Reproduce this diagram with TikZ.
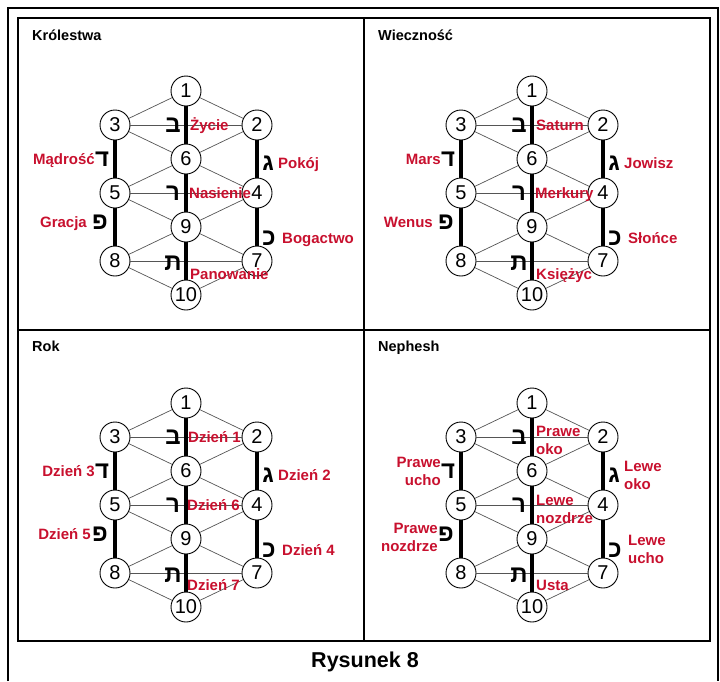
\documentclass[tikz,border=0pt]{standalone}
\usepackage{fontspec}
\setmainfont{Liberation Sans}
\newfontfamily\hebfont[Script=Hebrew]{Liberation Sans}
\usetikzlibrary{positioning,calc}
\definecolor{labelred}{RGB}{200,16,46}
\definecolor{edgegray}{RGB}{85,85,85}

\begin{document}
\begin{tikzpicture}[x=1pt,y=-1pt,
  sefira/.style={circle,draw=black,line width=0.9pt,fill=white,inner sep=0pt,minimum size=30pt,font=\fontsize{20}{20}\selectfont},
  thinpath/.style={draw=edgegray,line width=0.7pt},
  thickpath/.style={draw=black,line width=3.2pt},
  letter/.style={inner sep=0pt,font=\hebfont\bfseries\fontsize{24}{24}\selectfont},
  lbl/.style={inner sep=0pt,text=labelred,font=\bfseries\fontsize{15}{18}\selectfont,text height=10.8pt,text depth=0pt},
  lbltwo/.style={inner sep=0pt,text=labelred,font=\bfseries\fontsize{15}{18}\selectfont},
  paneltitle/.style={anchor=base west,inner sep=0pt,font=\bfseries\fontsize{14.5}{17}\selectfont},
  frame/.style={line width=1.3pt}]

\useasboundingbox (0,0) rectangle (720,681);

% frames
\draw[frame] (8,681) -- (8,8) -- (718,8) -- (718,681);
\draw[frame] (18,18) rectangle (710,641);
\draw[frame] (364,18) -- (364,641);
\draw[frame] (18,330) -- (710,330);

% the same tree in every panel
\foreach \p/\ox/\oy in {K/18/18, W/364/18, R/18/330, N/364/330}{
  \node[sefira] (\p-1)  at (\ox+168,\oy+73)  {1};
  \node[sefira] (\p-3)  at (\ox+97,\oy+107)  {3};
  \node[sefira] (\p-2)  at (\ox+239,\oy+107) {2};
  \node[sefira] (\p-6)  at (\ox+168,\oy+141) {6};
  \node[sefira] (\p-5)  at (\ox+97,\oy+175)  {5};
  \node[sefira] (\p-4)  at (\ox+239,\oy+175) {4};
  \node[sefira] (\p-9)  at (\ox+168,\oy+209) {9};
  \node[sefira] (\p-8)  at (\ox+97,\oy+243)  {8};
  \node[sefira] (\p-7)  at (\ox+239,\oy+243) {7};
  \node[sefira] (\p-10) at (\ox+168,\oy+277) {10};

  \draw[thinpath] (\p-1) -- (\p-3);
  \draw[thinpath] (\p-1) -- (\p-2);
  \draw[thinpath] (\p-3) -- (\p-2);
  \draw[thinpath] (\p-3) -- (\p-6);
  \draw[thinpath] (\p-2) -- (\p-6);
  \draw[thinpath] (\p-6) -- (\p-5);
  \draw[thinpath] (\p-6) -- (\p-4);
  \draw[thinpath] (\p-5) -- (\p-4);
  \draw[thinpath] (\p-5) -- (\p-9);
  \draw[thinpath] (\p-4) -- (\p-9);
  \draw[thinpath] (\p-9) -- (\p-8);
  \draw[thinpath] (\p-9) -- (\p-7);
  \draw[thinpath] (\p-8) -- (\p-7);
  \draw[thinpath] (\p-8) -- (\p-10);
  \draw[thinpath] (\p-7) -- (\p-10);

  \draw[thickpath] (\p-1) -- (\p-6);
  \draw[thickpath] (\p-6) -- (\p-9);
  \draw[thickpath] (\p-9) -- (\p-10);
  \draw[thickpath] (\p-3) -- (\p-5);
  \draw[thickpath] (\p-5) -- (\p-8);
  \draw[thickpath] (\p-2) -- (\p-4);
  \draw[thickpath] (\p-4) -- (\p-7);

  \node[letter] (\p-bet)   at ($(\p-3)!0.5!(\p-2)+(-13,0)$) {ב};
  \node[letter] (\p-dalet) at ($(\p-3)!0.5!(\p-5)+(-13,0)$) {ד};
  \node[letter] (\p-gimel) at ($(\p-2)!0.5!(\p-4)+(11,4)$)  {ג};
  \node[letter] (\p-resh)  at ($(\p-5)!0.5!(\p-4)+(-13,0)$) {ר};
  \node[letter] (\p-pe)    at ($(\p-5)!0.5!(\p-8)+(-15,-5)$) {פ};
  \node[letter] (\p-kaf)   at ($(\p-4)!0.5!(\p-7)+(12,11)$) {כ};
  \node[letter] (\p-tav)   at ($(\p-8)!0.5!(\p-7)+(-13,2)$) {ת};
}

% Krolestwa
\node[paneltitle] (titleK) at (32,40) {Królestwa};
\node[lbl,anchor=west] (K-a) at ($(K-3)!0.5!(K-2)+(4,0)$) {Życie};
\node[lbl,anchor=west] (K-b) at ($(K-gimel)+(10,0)$) {Pokój};
\node[lbl,anchor=east] (K-c) at ($(K-dalet)+(-7,0)$) {Mądrość};
\node[lbl,anchor=west] (K-d) at ($(K-5)!0.5!(K-4)+(3,0)$) {Nasienie};
\node[lbl,anchor=east] (K-e) at ($(K-pe)+(-13,0)$) {Gracja};
\node[lbl,anchor=west] (K-f) at ($(K-kaf)+(13,0)$) {Bogactwo};
\node[lbl,anchor=west] (K-g) at ($(K-8)!0.5!(K-7)+(4,13)$) {Panowanie};

% Wiecznosc
\node[paneltitle] (titleW) at (378,40) {Wieczność};
\node[lbl,anchor=west] (W-a) at ($(W-3)!0.5!(W-2)+(4,0)$) {Saturn};
\node[lbl,anchor=west] (W-b) at ($(W-gimel)+(10,0)$) {Jowisz};
\node[lbl,anchor=east] (W-c) at ($(W-dalet)+(-7,0)$) {Mars};
\node[lbl,anchor=west] (W-d) at ($(W-5)!0.5!(W-4)+(3,0)$) {Merkury};
\node[lbl,anchor=east] (W-e) at ($(W-pe)+(-13,0)$) {Wenus};
\node[lbl,anchor=west] (W-f) at ($(W-kaf)+(13,0)$) {Słońce};
\node[lbl,anchor=west] (W-g) at ($(W-8)!0.5!(W-7)+(4,13)$) {Księżyc};

% Rok
\node[paneltitle] (titleR) at (32,351) {Rok};
\node[lbl,anchor=west] (R-a) at ($(R-3)!0.5!(R-2)+(2,0)$) {Dzień 1};
\node[lbl,anchor=west] (R-b) at ($(R-gimel)+(10,0)$) {Dzień 2};
\node[lbl,anchor=east] (R-c) at ($(R-dalet)+(-7,0)$) {Dzień 3};
\node[lbl,anchor=west] (R-d) at ($(R-5)!0.5!(R-4)+(1,0)$) {Dzień 6};
\node[lbl,anchor=east] (R-e) at ($(R-pe)+(-9,0)$) {Dzień 5};
\node[lbl,anchor=west] (R-f) at ($(R-kaf)+(13,0)$) {Dzień 4};
\node[lbl,anchor=west] (R-g) at ($(R-8)!0.5!(R-7)+(1,12)$) {Dzień 7};

% Nephesh
\node[paneltitle] (titleN) at (378,351) {Nephesh};
\node[lbltwo,anchor=west,align=left]  (N-a) at ($(N-3)!0.5!(N-2)+(4,3)$) {Prawe\\oko};
\node[lbltwo,anchor=west,align=left]  (N-b) at ($(N-gimel)+(10,0)$) {Lewe\\oko};
\node[lbltwo,anchor=east,align=right] (N-c) at ($(N-dalet)+(-7,0)$) {Prawe\\ucho};
\node[lbltwo,anchor=west,align=left]  (N-d) at ($(N-5)!0.5!(N-4)+(4,4)$) {Lewe\\nozdrze};
\node[lbltwo,anchor=east,align=right] (N-e) at ($(N-pe)+(-8,3)$) {Prawe\\nozdrze};
\node[lbltwo,anchor=west,align=left]  (N-f) at ($(N-kaf)+(13,-1)$) {Lewe\\ucho};
\node[lbl,anchor=west] (N-g) at ($(N-8)!0.5!(N-7)+(4,12)$) {Usta};

\node[font=\bfseries\fontsize{21.5}{24}\selectfont] (caption) at (365,662) {Rysunek 8};
\end{tikzpicture}
\end{document}
